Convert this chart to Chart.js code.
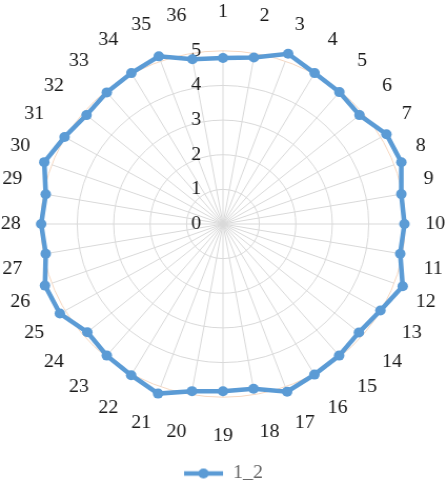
<!DOCTYPE html>
<html>
<head>
<meta charset="utf-8">
<script src="https://cdn.jsdelivr.net/npm/chart.js@4"></script>
<style>
  html, body { margin: 0; padding: 0; background: #fff; }
</style>
</head>
<body>
<!-- the source picture is slightly wider than tall, so the canvas is stretched a little -->
<canvas id="chart" width="425" height="487" style="width:447px;height:487px;display:block"></canvas>
<script>
const categories = ["1","2","3","4","5","6","7","8","9","10","11","12","13","14","15","16","17","18",
  "19","20","21","22","23","24","25","26","27","28","29","30","31","32","33","34","35","36"];
const values = [4.79, 4.88, 5.23, 5.03, 4.97, 4.89, 5.18, 5.21, 4.97, 4.98, 4.94, 5.25,
  4.99, 4.87, 4.96, 5.02, 5.15, 4.83, 4.83, 4.90, 5.21, 5.04, 4.96, 4.86,
  5.17, 5.20, 4.94, 4.99, 4.94, 5.22, 5.02, 4.89, 4.96, 5.03, 5.15, 4.83];
const tickLabels = [0, 1, 2, 3, 4, 5];
const seriesName = "1_2";

const BLUE = "#5b9bd5";
const GRID = "#d9d9d9";
const FONT = "'Liberation Serif', 'Times New Roman', serif";

// legend marker: line with a dot in the middle
function legendMarker() {
  const c = document.createElement("canvas");
  c.width = 37;
  c.height = 12;
  const g = c.getContext("2d");
  g.strokeStyle = BLUE;
  g.lineWidth = 4.5;
  g.beginPath();
  g.moveTo(0, 6);
  g.lineTo(37, 6);
  g.stroke();
  g.fillStyle = BLUE;
  g.beginPath();
  g.arc(18.5, 6, 5, 0, Math.PI * 2);
  g.fill();
  return c;
}
const marker = legendMarker();

// tick numbers sit just left of the vertical spoke, under the series line
const tickText = {
  id: "tickText",
  beforeDatasetsDraw(chart) {
    const s = chart.scales.r;
    const ctx = chart.ctx;
    ctx.save();
    ctx.font = "19px " + FONT;
    ctx.fillStyle = "#1a1a1a";
    ctx.textAlign = "center";
    ctx.textBaseline = "middle";
    tickLabels.forEach(v => {
      const y = s.yCenter - s.getDistanceFromCenterForValue(v);
      ctx.fillText(String(v), s.xCenter - 25.5, y);
    });
    ctx.restore();
  }
};

new Chart(document.getElementById("chart"), {
  type: "radar",
  data: {
    labels: categories,
    datasets: [{
      label: seriesName,
      data: values,
      borderColor: BLUE,
      backgroundColor: BLUE,
      borderWidth: 4.5,
      pointRadius: 5,
      pointBackgroundColor: BLUE,
      pointBorderColor: BLUE,
      pointBorderWidth: 0,
      fill: false,
      tension: 0,
      clip: false,
    }]
  },
  options: {
    responsive: false,
    devicePixelRatio: 1,
    animation: false,
    layout: { padding: { top: 1, bottom: -6, left: 0, right: 0 } },
    plugins: {
      legend: {
        position: "bottom",
        // empty title only adds room between the plot and the legend row
        title: { display: true, text: "", font: { size: 1 }, padding: { top: 14, bottom: 0 } },
        labels: {
          usePointStyle: true,
          pointStyle: marker,
          pointStyleWidth: 37,
          color: "#1a1a1a",
          font: { family: FONT, size: 19 },
          padding: 0,
          generateLabels(chart) {
            return [{ text: seriesName, pointStyle: marker, fillStyle: BLUE, strokeStyle: BLUE, lineWidth: 0, datasetIndex: 0 }];
          }
        }
      },
      tooltip: { enabled: false }
    },
    scales: {
      r: {
        min: 0,
        max: 5,
        ticks: { display: false, stepSize: 1 },
        grid: {
          circular: true,
          color: ctx => ctx.tick && ctx.tick.value === 5 ? "#f6d7c0" : GRID,
          lineWidth: 1
        },
        angleLines: { color: GRID, lineWidth: 1 },
        pointLabels: {
          color: "#1a1a1a",
          font: { family: FONT, size: 19 },
          padding: ctx => 19 + 8 * Math.abs(Math.cos(ctx.index * Math.PI / 18))
        }
      }
    }
  },
  plugins: [tickText]
});
</script>
</body>
</html>
